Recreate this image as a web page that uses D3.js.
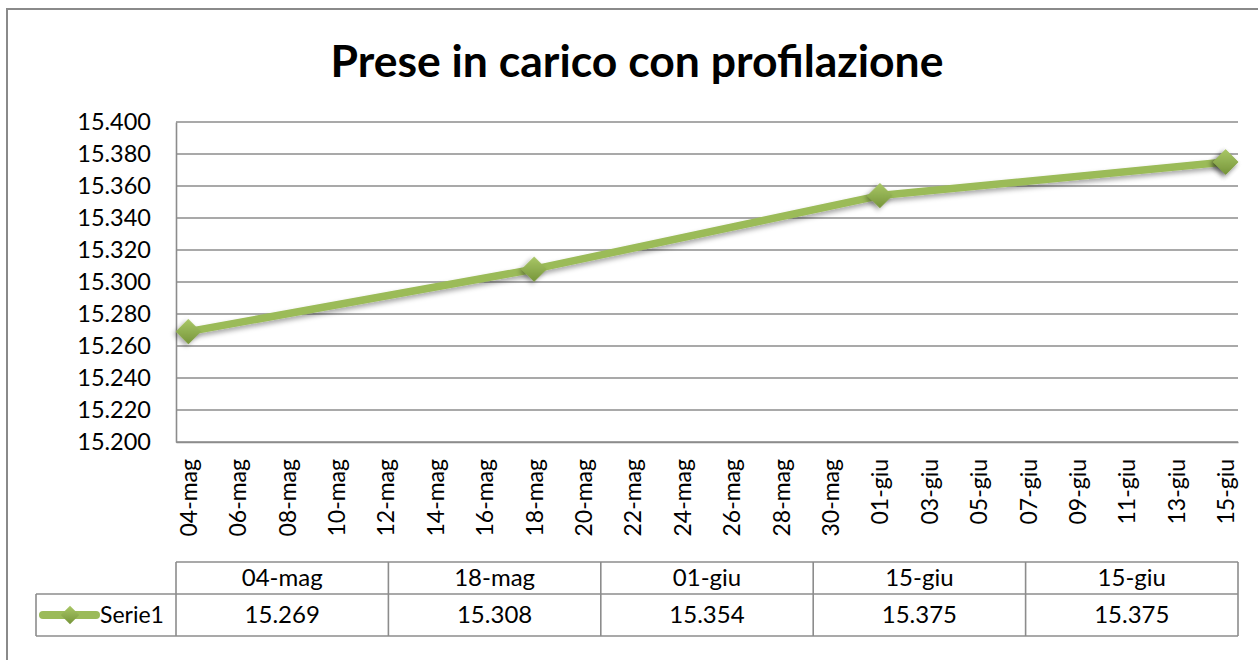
<!DOCTYPE html>
<html>
    <head>
        <meta charset="utf-8">
        <script src="https://cdn.jsdelivr.net/npm/d3@7"></script>
        <style>
            body { margin: 0; background: #fff; }
            text { font-family: Lato, "Open Sans", sans-serif; fill: #000; }
        </style>
    </head>
    <body>
        <div id="chart"></div>
        <script>

            // data
            const categories = ["04-mag", "18-mag", "01-giu", "15-giu", "15-giu"];
            const serie1 = [15269, 15308, 15354, 15375, 15375];
            const seriesName = "Serie1";
            const yTicks = [15200, 15220, 15240, 15260, 15280, 15300, 15320, 15340, 15360, 15380, 15400];
            const xTickLabels = ["04-mag", "06-mag", "08-mag", "10-mag", "12-mag", "14-mag", "16-mag", "18-mag",
                "20-mag", "22-mag", "24-mag", "26-mag", "28-mag", "30-mag", "01-giu", "03-giu", "05-giu",
                "07-giu", "09-giu", "11-giu", "13-giu", "15-giu"];
            const title = "Prese in carico con profilazione";

            const W = 1258, H = 660;
            const plot = {left: 176, right: 1238, top: 122, bottom: 442};
            const green = "#9bbb59";
            const grid = "#8c8c8c";

            const months = {mag: 4, giu: 5};
            function parseLabel(s) {
                const [d, m] = s.split("-");
                return new Date(2012, months[m], +d);
            }

            const it = d3.formatLocale({decimal: ",", thousands: ".", grouping: [3], currency: ["€", ""]});
            const fmt = it.format(",.0f");

            const svg = d3.select("#chart").append("svg")
                .attr("width", W).attr("height", H);

            const defs = svg.append("defs");
            const grad = defs.append("linearGradient").attr("id", "mk")
                .attr("x1", 0).attr("y1", 0).attr("x2", 1).attr("y2", 1);
            grad.append("stop").attr("offset", "0%").attr("stop-color", "#a9c766");
            grad.append("stop").attr("offset", "100%").attr("stop-color", "#76953a");
            const sh = defs.append("filter").attr("id", "shadow")
                .attr("x", "-50%").attr("y", "-50%").attr("width", "200%").attr("height", "200%");
            sh.append("feDropShadow").attr("dx", 0).attr("dy", 3).attr("stdDeviation", 2.5)
                .attr("flood-color", "#000").attr("flood-opacity", 0.35);

            // outer frame
            svg.append("rect")
                .attr("x", 7).attr("y", 9).attr("width", W + 10).attr("height", H + 10)
                .attr("fill", "none").attr("stroke", "#8a8a8a").attr("stroke-width", 2);

            svg.append("text")
                .attr("x", 637).attr("y", 77)
                .attr("text-anchor", "middle")
                .style("font-size", "44.5px").style("font-weight", "bold")
                .text(title);

            // scales
            const x0 = parseLabel(xTickLabels[0]);
            const x1 = parseLabel(xTickLabels[xTickLabels.length - 1]);
            const x = d3.scaleTime()
                .domain([d3.timeHour.offset(x0, -12), d3.timeHour.offset(x1, 12)])
                .range([plot.left, plot.right]);
            const y = d3.scaleLinear()
                .domain([yTicks[0], yTicks[yTicks.length - 1]])
                .range([plot.bottom, plot.top]);

            // gridlines
            svg.append("g")
                .selectAll("line")
                .data(yTicks)
                .join("line")
                .attr("x1", plot.left).attr("x2", plot.right)
                .attr("y1", d => y(d)).attr("y2", d => y(d))
                .attr("stroke", grid).attr("stroke-width", 1.6);

            // y axis
            const yAxis = svg.append("g")
                .attr("transform", "translate(" + plot.left + ",0)")
                .call(d3.axisLeft(y).tickValues(yTicks).tickFormat(fmt).tickSize(0).tickPadding(25));
            yAxis.select(".domain").attr("stroke", grid).attr("stroke-width", 1.6);
            yAxis.selectAll("text").style("font-size", "23.5px").style("font-family", "Lato, sans-serif");

            // x axis
            const xAxis = svg.append("g")
                .attr("transform", "translate(0," + plot.bottom + ")")
                .call(d3.axisBottom(x).tickValues(xTickLabels.map(parseLabel))
                    .tickFormat((d, i) => xTickLabels[i]).tickSize(0).tickSizeOuter(0));
            xAxis.select(".domain").attr("stroke", grid).attr("stroke-width", 1.6);
            xAxis.selectAll("text")
                .style("font-size", "23px").style("font-family", "Lato, sans-serif")
                .attr("text-anchor", "end")
                .attr("transform", "rotate(-90)")
                .attr("x", -17).attr("y", 0).attr("dy", "0.35em");

            // line
            const pts = categories.map((c, i) => ({date: parseLabel(c), v: serie1[i]}));
            const line = d3.line().x(d => x(d.date)).y(d => y(d.v));
            svg.append("path")
                .datum(pts)
                .attr("d", line)
                .attr("fill", "none")
                .attr("stroke", green)
                .attr("stroke-width", 7.5)
                .attr("stroke-linejoin", "round")
                .attr("filter", "url(#shadow)");

            const diamond = d3.symbol(d3.symbolSquare, 320);
            svg.append("g")
                .selectAll("path")
                .data(pts)
                .join("path")
                .attr("d", diamond)
                .attr("transform", d => "translate(" + x(d.date) + "," + y(d.v) + ") rotate(45)")
                .attr("fill", "url(#mk)")
                .attr("filter", "url(#shadow)");

            // data table
            const tb = {top: 562, mid: 594, bottom: 636, keyLeft: 36};
            const col = d3.scaleBand().domain(d3.range(categories.length)).range([plot.left, plot.right]);
            const tg = svg.append("g").attr("stroke", "#8c8c8c").attr("stroke-width", 1.6);
            tg.append("line").attr("x1", plot.left).attr("x2", plot.right).attr("y1", tb.top).attr("y2", tb.top);
            tg.append("line").attr("x1", tb.keyLeft).attr("x2", plot.right).attr("y1", tb.mid).attr("y2", tb.mid);
            tg.append("line").attr("x1", tb.keyLeft).attr("x2", plot.right).attr("y1", tb.bottom).attr("y2", tb.bottom);
            tg.append("line").attr("x1", tb.keyLeft).attr("x2", tb.keyLeft).attr("y1", tb.mid).attr("y2", tb.bottom);
            tg.selectAll(".v")
                .data(d3.range(categories.length + 1))
                .join("line")
                .attr("x1", i => plot.left + i * col.bandwidth())
                .attr("x2", i => plot.left + i * col.bandwidth())
                .attr("y1", tb.top).attr("y2", tb.bottom);

            svg.append("g").selectAll("text")
                .data(categories)
                .join("text")
                .attr("x", (d, i) => col(i) + col.bandwidth() / 2)
                .attr("y", (tb.top + tb.mid) / 2)
                .attr("dy", "0.35em")
                .attr("text-anchor", "middle")
                .style("font-size", "24px")
                .text(d => d);

            svg.append("g").selectAll("text")
                .data(serie1)
                .join("text")
                .attr("x", (d, i) => col(i) + col.bandwidth() / 2)
                .attr("y", (tb.mid + tb.bottom) / 2)
                .attr("dy", "0.35em")
                .attr("text-anchor", "middle")
                .style("font-size", "24px")
                .text(d => fmt(d));

            // legend key
            const ky = (tb.mid + tb.bottom) / 2;
            svg.append("line")
                .attr("x1", 43).attr("x2", 96).attr("y1", ky).attr("y2", ky)
                .attr("stroke", green).attr("stroke-width", 8).attr("stroke-linecap", "round");
            svg.append("path")
                .attr("d", d3.symbol(d3.symbolSquare, 170))
                .attr("transform", "translate(70," + ky + ") rotate(45)")
                .attr("fill", "url(#mk)");
            svg.append("text")
                .attr("x", 100).attr("y", ky).attr("dy", "0.35em")
                .style("font-size", "23px")
                .text(seriesName);

        </script>
    </body>
</html>
